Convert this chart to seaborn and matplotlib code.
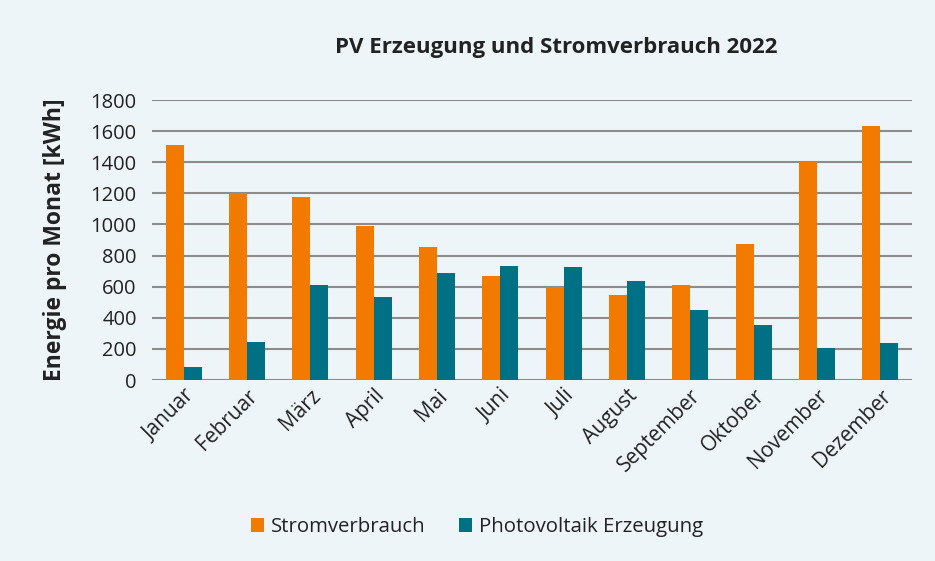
import pandas as pd
import matplotlib
matplotlib.use('Agg')
import matplotlib.pyplot as plt
import seaborn as sns
from matplotlib.patches import Patch

# Daten
monate = ['Januar', 'Februar', 'März', 'April', 'Mai', 'Juni', 'Juli',
          'August', 'September', 'Oktober', 'November', 'Dezember']
stromverbrauch = [1510, 1200, 1175, 988, 855, 666, 598, 544, 611, 874, 1404, 1635]
pv_erzeugung = [84, 246, 611, 534, 688, 733, 726, 634, 452, 356, 206, 236]
serien = ['Stromverbrauch', 'Photovoltaik Erzeugung']
farben = ['#F27A00', '#007185']

df = pd.DataFrame({
    'Monat': monate * 2,
    'Wert': stromverbrauch + pv_erzeugung,
    'Serie': [serien[0]] * len(monate) + [serien[1]] * len(monate),
})

bg = '#EEF5F9'
txt = '#222222'

sns.set_style('white')
plt.rcParams['font.family'] = ['Open Sans', 'DejaVu Sans']

fig = plt.figure(figsize=(9.35, 5.61), dpi=100, facecolor=bg)
ax = fig.add_axes([152 / 935, 1 - 380 / 561, 760 / 935, 280 / 561])
ax.set_facecolor(bg)

sns.barplot(data=df, x='Monat', y='Wert', hue='Serie', palette=farben,
            width=0.57, saturation=1, ax=ax, legend=False, zorder=3,
            linewidth=0, edgecolor='none')

ax.set_ylim(0, 1800)
ax.set_xlim(-0.5, len(monate) - 0.5)
ax.set_yticks(range(0, 1801, 200))
ax.yaxis.grid(True, color='#8C8C8C', linewidth=1.5, zorder=0)
ax.set_axisbelow(True)
for s in ax.spines.values():
    s.set_visible(False)
ax.tick_params(axis='both', length=0, colors=txt)
ax.tick_params(axis='y', pad=11, labelsize=14.5)
ax.tick_params(axis='x', pad=4, labelsize=15)
plt.setp(ax.get_xticklabels(), rotation=45, ha='right', rotation_mode='anchor')

ax.set_xlabel('')
ax.set_ylabel('Energie pro Monat [kWh]', fontsize=16.5, fontweight='bold', color=txt)
ax.yaxis.set_label_coords((67 - 152) / 760, 0.5)

fig.text(556 / 935, 1 - 47 / 561, 'PV Erzeugung und Stromverbrauch 2022',
         ha='center', va='center', fontsize=16, fontweight='bold', color=txt)

handles = [Patch(facecolor=c, edgecolor='none') for c in farben]
fig.legend(handles, serien, loc='center', bbox_to_anchor=(477 / 935, 1 - 527 / 561),
           ncol=2, frameon=False, fontsize=14.7, handlelength=0.65, handleheight=0.65,
           handletextpad=0.35, columnspacing=1.6, labelcolor=txt)

fig.savefig('out.png', dpi=100, facecolor=bg)
